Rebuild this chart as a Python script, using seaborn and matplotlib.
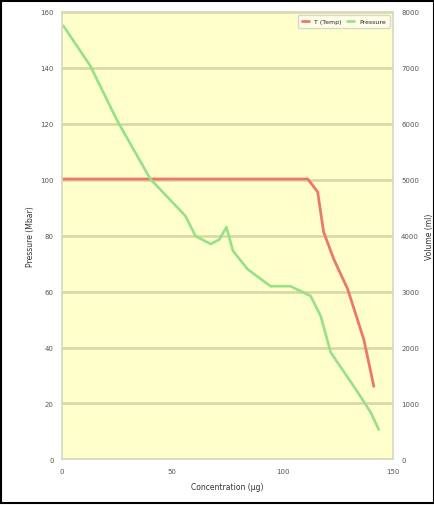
import matplotlib
matplotlib.use("Agg")
import matplotlib.pyplot as plt
import seaborn as sns
import pandas as pd

# Data
green_x = [0.5, 12.7, 25, 40, 55.9, 60.5, 67.3, 71.2, 74.5, 77.5, 84.1, 94.5, 103.6, 112.7, 117.3, 121.8, 134.1, 140, 143.6]
green_y = [155, 140.7, 121, 100.2, 87, 79.8, 77, 78.5, 83, 74.5, 68, 61.9, 61.9, 58.4, 51.2, 38.3, 24, 16.8, 10.7]
red_x = [0, 50, 100, 111.4, 115.9, 118.6, 123.2, 129.5, 136.8, 141.4]
red_y = [100.2, 100.2, 100.2, 100.2, 95.6, 81.3, 71.6, 60.9, 43, 26.1]
left_ticks = [0, 20, 40, 60, 80, 100, 120, 140, 160]
right_ticks = [0, 1000, 2000, 3000, 4000, 5000, 6000, 7000, 8000]
x_ticks = [0, 50, 100, 150]
series_names = ["T (Temp)", "Pressure"]

sns.set_theme(style="white")
plt.rcParams['font.family'] = ['DejaVu Sans']

fig = plt.figure(figsize=(4.35, 5.06), dpi=100)
fig.patch.set_facecolor("white")
ax = fig.add_axes([0.143, 0.09, 0.76, 0.885])
ax.set_facecolor("#ffffcc")

dr = pd.DataFrame({"x": red_x, "y": red_y})
dg = pd.DataFrame({"x": green_x, "y": green_y})
sns.lineplot(data=dr, x="x", y="y", ax=ax, color="#ee7766", linewidth=2.0, label=series_names[0])
sns.lineplot(data=dg, x="x", y="y", ax=ax, color="#96e088", linewidth=1.9, label=series_names[1])

ax.set_xlim(0, 150)
ax.set_ylim(0, 160)
ax.set_xticks(x_ticks)
ax.set_yticks(left_ticks)
ax.yaxis.grid(True, color="#d6d6a0", linewidth=1.8)
ax.xaxis.grid(False)
for s in ax.spines.values():
    s.set_color("#d8d8c0")
ax.tick_params(labelsize=5, colors="#555555", length=0, pad=6)
ax.set_xlabel("Concentration (µg)", fontsize=5.5, color="#333333", labelpad=6)
ax.set_ylabel("Pressure (Mbar)", fontsize=5.5, color="#333333", labelpad=4)

ax2 = ax.twinx()
ax2.set_ylim(0, 8000)
ax2.set_yticks(right_ticks)
ax2.tick_params(labelsize=5, colors="#555555", length=0, pad=6)
ax2.set_ylabel("Volume (ml)", fontsize=5.5, color="#333333", labelpad=4)
for s in ax2.spines.values():
    s.set_visible(False)

leg = ax.legend(loc="upper right", fontsize=4.5, frameon=True, ncol=2,
                handlelength=1.2, borderpad=0.6, columnspacing=0.8)
leg.get_frame().set_edgecolor("#cccccc")
leg.get_frame().set_facecolor("#fffff0")

border = plt.Rectangle((0.003, 0.003), 0.994, 0.994, transform=fig.transFigure,
                       fill=False, edgecolor="black", linewidth=1.5)
fig.patches.append(border)

fig.savefig("out.png", dpi=100)
